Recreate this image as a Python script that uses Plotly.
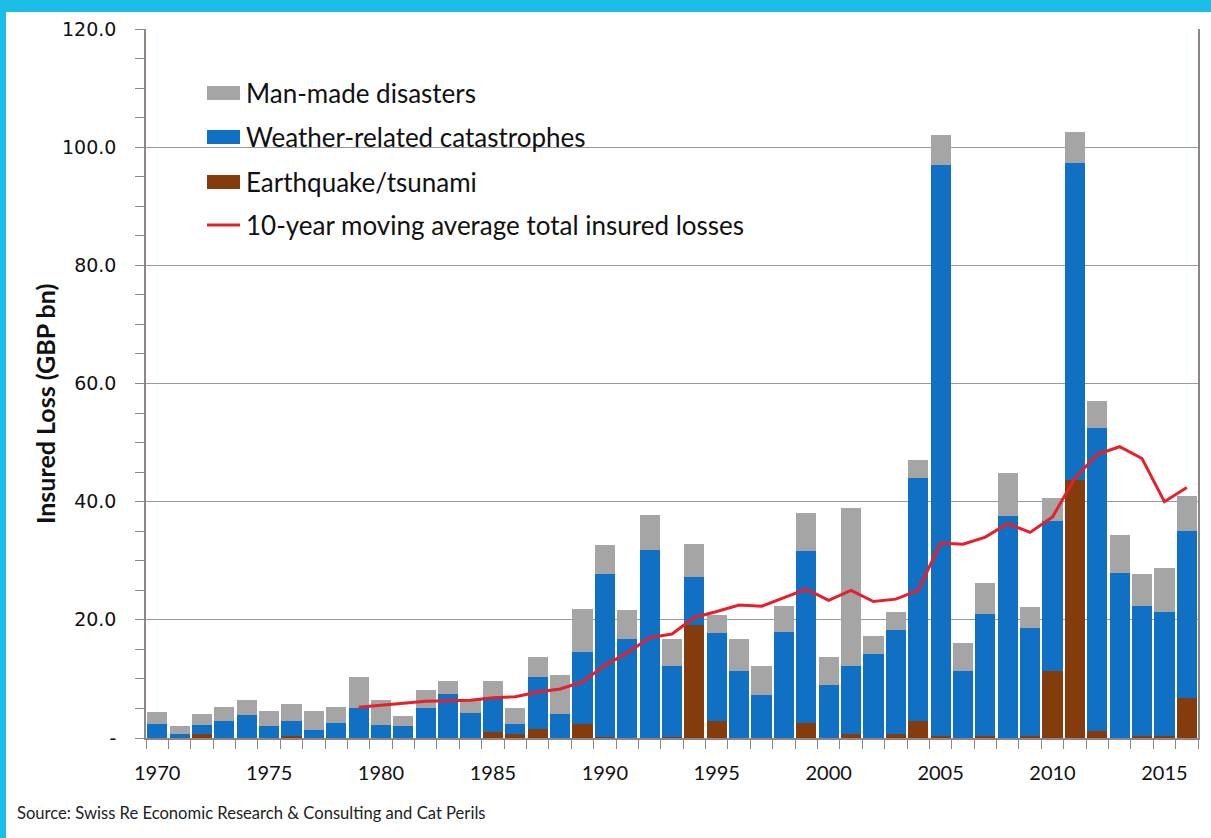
import plotly.graph_objects as go

years = list(range(1970, 2017))

earthquake = [0, 0, 0.7, 0, 0, 0, 0.4, 0, 0, 0,
              0, 0, 0, 0, 0, 1.1, 0.6, 1.6, 0, 2.4,
              0.2, 0, 0, 0.2, 19.1, 2.9, 0, 0, 0, 2.6,
              0, 0.7, 0, 0.6, 2.8, 0.3, 0, 0.4, 0, 0.4,
              11.4, 43.6, 1.2, 0, 0.3, 0.4, 6.8]

weather_top = [2.4, 0.7, 2.2, 2.8, 3.9, 2.0, 2.9, 1.3, 2.6, 5.1,
               2.2, 2.0, 5.1, 7.4, 4.2, 6.9, 2.4, 10.4, 4.1, 14.5,
               27.8, 16.8, 31.8, 12.2, 27.2, 17.7, 11.3, 7.3, 17.9, 31.7,
               9.0, 12.2, 14.3, 18.2, 44.0, 97.0, 11.3, 21.0, 37.6, 18.7,
               36.8, 97.3, 52.5, 28.0, 22.3, 21.4, 35.1]

total = [4.4, 2.1, 4.0, 5.2, 6.4, 4.5, 5.8, 4.6, 5.2, 10.3,
         6.4, 3.7, 8.2, 9.7, 6.6, 9.6, 5.0, 13.7, 10.7, 21.9,
         32.7, 21.7, 37.8, 16.8, 32.8, 20.9, 16.8, 12.2, 22.4, 38.1,
         13.7, 38.9, 17.3, 21.3, 47.1, 102.1, 16.0, 26.2, 44.8, 22.1,
         40.7, 102.6, 57.0, 34.3, 27.7, 28.7, 41.0]

weather = [round(w - e, 2) for w, e in zip(weather_top, earthquake)]
man_made = [round(t - w, 2) for t, w in zip(total, weather_top)]

ma_years = list(range(1979, 2017))
moving_avg = [5.2, 5.6, 5.9, 6.2, 6.3, 6.4, 6.8, 7.0, 7.8, 8.3,
              9.5, 12.3, 14.4, 17.0, 17.6, 20.4, 21.4, 22.5, 22.3, 23.8,
              25.2, 23.3, 25.0, 23.1, 23.5, 25.0, 33.0, 32.8, 34.0, 36.3,
              34.8, 37.4, 44.0, 48.0, 49.3, 47.3, 40.0, 42.4]

y_ticks = [0, 20, 40, 60, 80, 100, 120]
y_ticktext = ["-", "20.0", "40.0", "60.0", "80.0", "100.0", "120.0"]
x_ticks = list(range(1970, 2016, 5))

legend_labels = ["Man-made disasters", "Weather-related catastrophes",
                 "Earthquake/tsunami", "10-year moving average total insured losses"]

C_GRAY = "#A5A5A5"
C_BLUE = "#1070C4"
C_BROWN = "#843C0C"
C_RED = "#E5202A"
CYAN = "#19BDE6"

W, H = 1211, 838
ML, MR, MT, MB = 146, 13, 29, 100
PW, PH = W - ML - MR, H - MT - MB


def px(x):
    return (x - ML) / PW


def py(y):
    return (H - MB - y) / PH


fig = go.Figure()
fig.add_trace(go.Bar(x=years, y=earthquake, marker_color=C_BROWN, name=legend_labels[2],
                     marker_line_width=0))
fig.add_trace(go.Bar(x=years, y=weather, marker_color=C_BLUE, name=legend_labels[1],
                     marker_line_width=0))
fig.add_trace(go.Bar(x=years, y=man_made, marker_color=C_GRAY, name=legend_labels[0],
                     marker_line_width=0))
fig.add_trace(go.Scatter(x=ma_years, y=moving_avg, mode="lines", name=legend_labels[3],
                         line=dict(color=C_RED, width=3)))

shapes = [dict(type="rect", xref="paper", yref="paper", x0=px(6), x1=px(W + 5),
               y0=py(H + 5), y1=py(12), fillcolor="white", line_width=0, layer="below")]
annotations = []

rows = [93, 137, 182, 225]
colors = [C_GRAY, C_BLUE, C_BROWN]
for i, (label, yc) in enumerate(zip(legend_labels, rows)):
    if i < 3:
        shapes.append(dict(type="rect", xref="paper", yref="paper", x0=px(207), x1=px(240),
                           y0=py(yc + 7), y1=py(yc - 7), fillcolor=colors[i], line_width=0))
    else:
        shapes.append(dict(type="line", xref="paper", yref="paper", x0=px(207), x1=px(240),
                           y0=py(yc), y1=py(yc), line=dict(color=C_RED, width=3)))
    annotations.append(dict(text=label, xref="paper", yref="paper", x=px(244), y=py(yc),
                            xanchor="left", yanchor="middle", showarrow=False,
                            font=dict(family="Lato", size=26, color="#111111")))

annotations.append(dict(text="<b>Insured Loss (GBP bn)</b>", xref="paper", yref="paper",
                        x=px(45), y=py(404), textangle=-90, showarrow=False,
                        xanchor="center", yanchor="middle",
                        font=dict(family="Lato", size=25, color="#111111")))
annotations.append(dict(text="Source: Swiss Re Economic Research &amp; Consulting and Cat Perils",
                        xref="paper", yref="paper", x=px(15), y=py(813), showarrow=False,
                        xanchor="left", yanchor="middle",
                        font=dict(family="Lato", size=16.6, color="#222222")))

fig.update_layout(
    width=W, height=H,
    margin=dict(l=ML, r=MR, t=MT, b=MB),
    paper_bgcolor=CYAN, plot_bgcolor="white",
    barmode="stack", bargap=0.1,
    showlegend=False,
    shapes=shapes, annotations=annotations,
    xaxis=dict(range=[1969.5, 2016.5], tickmode="array", tickvals=x_ticks,
               ticks="", ticklabelstandoff=16, showgrid=False,
               showline=True, linecolor="#8f8585", linewidth=1.5,
               tickfont=dict(family="Lato", size=20, color="#111111"),
               minor=dict(tick0=1969.5, dtick=1, ticks="outside", ticklen=9,
                          tickcolor="#8f8585", tickwidth=1, showgrid=False),
               zeroline=False),
    yaxis=dict(range=[0, 120], tickmode="array", tickvals=y_ticks, ticktext=y_ticktext,
               ticks="outside", ticklen=9, tickcolor="#8f8585", ticklabelstandoff=15,
               showgrid=True, gridcolor="#9a9a9a", gridwidth=1,
               showline=True, linecolor="#8f8585", linewidth=1.5, mirror=True,
               tickfont=dict(family="DejaVu Sans", size=19, color="#111111"),
               minor=dict(dtick=5, tick0=0, ticks="outside", ticklen=9,
                          tickcolor="#8f8585", showgrid=False),
               zeroline=False),
)

fig.write_html("out.html", config={"displayModeBar": False},
               post_script="document.body.style.margin='0';document.body.style.overflow='hidden';")
